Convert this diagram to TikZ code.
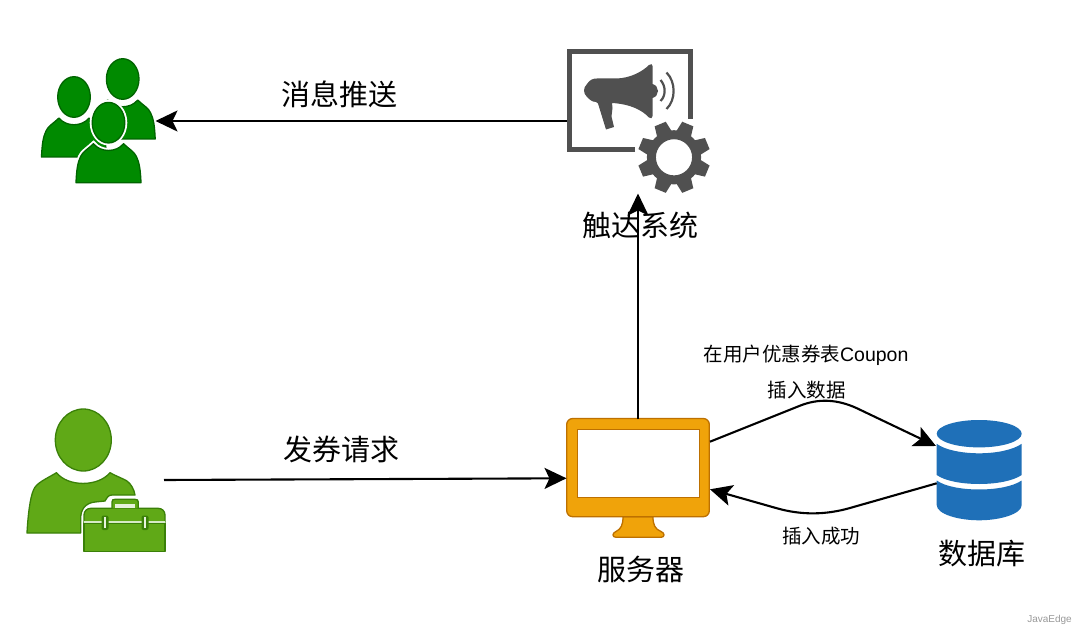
\documentclass[tikz,border=0pt]{standalone}
\usepackage{fontspec}
\setmainfont{Liberation Sans}
\newfontfamily\cjk{Noto Sans CJK SC}
\usetikzlibrary{arrows.meta}
\definecolor{gfill}{HTML}{008A00}
\definecolor{gline}{HTML}{006400}
\definecolor{wfill}{HTML}{60A917}
\definecolor{wline}{HTML}{3A8008}
\definecolor{ofill}{HTML}{F0A30A}
\definecolor{oline}{HTML}{BD7000}
\definecolor{icon}{HTML}{505050}
\definecolor{dbblue}{HTML}{1F70B8}
\tikzset{
  x=1pt,y=-1pt,
  conn/.style={line width=2.1pt,black,-{Stealth[length=22pt,width=21pt,inset=5pt]}},
  bigtext/.style={font=\cjk\fontsize{29}{33}\selectfont,inner sep=0pt,text=black},
  smalltext/.style={font=\cjk\fontsize{19.5}{23}\selectfont,inner sep=0pt,text=black},
  iconbox/.style={inner sep=0pt,draw=none,fill=none},
  person/.style={fill=gfill,draw=gline,line width=1.3pt,line join=round},
}
\newcommand{\groupbody}{(-32.5,60) .. controls (-32,48) and (-31,40) .. (-28,34) .. controls (-26,29) and (-20,26) .. (-15,21) .. controls (-8,30) and (8,30) .. (15,21) .. controls (20,26) and (26,29) .. (28,34) .. controls (31,40) and (32,48) .. (32.5,60) -- cycle}
\begin{document}
\begin{tikzpicture}
\useasboundingbox (0,0) rectangle (1080,631);
\fill[white] (0,0) rectangle (1080,631);

% invisible nodes standing for the icons
\node[iconbox,minimum width=114pt,minimum height=124pt] (users) at (98.5,121) {};
\node[iconbox,minimum width=127pt,minimum height=104pt] (trigger) at (630,101) {};
\node[iconbox,minimum width=138pt,minimum height=143pt] (worker) at (96,480) {};
\node[iconbox,minimum width=143pt,minimum height=119pt] (server) at (638,478) {};
\node[iconbox,minimum width=85pt,minimum height=100pt] (db) at (979,470) {};
\coordinate (trigOut) at (566.7,121);
\coordinate (usersIn) at (155.5,121);
\coordinate (gearBelow) at (638,193.5);
\coordinate (serverTop) at (638,419);
\coordinate (workerOut) at (164,480);
\coordinate (serverIn) at (566.5,478.3);
\coordinate (serverOutR) at (710,441.7);
\coordinate (dbIn) at (936,446);
\coordinate (dbOut) at (936.7,483.3);
\coordinate (serverInR) at (710,489.3);

% users group
\begin{scope}[shift={(122.7,79)}]
  \draw[person] \groupbody;
  \draw[person] (0,0) ellipse[x radius=16.3,y radius=20.3];
\end{scope}
\begin{scope}[shift={(74,97)}]
  \draw[person] \groupbody;
  \draw[person] (0,0) ellipse[x radius=16.3,y radius=20.3];
\end{scope}
\begin{scope}[shift={(108.5,122.7)}]
  \draw[white,line width=5pt] \groupbody;
  \draw[person] \groupbody;
  \fill[white] (0,0) ellipse[x radius=18.8,y radius=22.8];
  \draw[person] (0,0) ellipse[x radius=16.3,y radius=20.3];
\end{scope}

% trigger icon
\draw[icon,line width=5pt] (635,150) -- (569,150) -- (569,51.8) -- (690.8,51.8) -- (690.8,119);
\fill[icon] (587,84) .. controls (590,79.5) and (593,78.5) .. (597,78.5)
  -- (617,78.5) .. controls (630,78) and (642,72) .. (649,65) .. controls (651,63.5) and (652.5,64) .. (652.5,66)
  -- (652.5,84) .. controls (656,85) and (658,88) .. (658,91) .. controls (658,94) and (656,97) .. (652.5,98)
  -- (652.5,116) .. controls (652.5,118.5) and (651,119) .. (649,117.5) .. controls (642,110) and (630,104) .. (612,103)
  -- (612.5,108) -- (611.5,116.5) -- (614,127) -- (606,129.5) -- (598,103.5) -- (596,102)
  .. controls (592,102) and (589,99) .. (587,97) .. controls (583,93) and (583,88) .. (587,84) -- cycle;
\draw[icon,line width=2.2pt] (660.5,80) .. controls (666,86) and (666,96) .. (660.5,101);
\draw[icon,line width=2.2pt] (666.5,72.5) .. controls (676,82) and (676,100) .. (666.5,109);
\draw[icon,line width=9pt] (674,157.3) circle[radius=22.6];
\foreach \a in {22.5,67.5,...,337.5}
  \fill[icon,shift={(674,157.3)},rotate=\a] (-6,-36) -- (6,-36) -- (8,-24) -- (-8,-24) -- cycle;

% worker
\draw[fill=wfill,draw=wline,line width=1.3pt,line join=round] (83.3,440) ellipse[x radius=28,y radius=31];
\draw[fill=wfill,draw=wline,line width=1.3pt,line join=round] (27,533) .. controls (28,515) and (30,498) .. (33.5,490)
  .. controls (36,483) and (46,479) .. (56.5,472.7)
  .. controls (68,487) and (98,487) .. (110,472.7)
  .. controls (118,477) and (124,479) .. (127,481) .. controls (131,484) and (134,489) .. (135,495)
  -- (112,495) .. controls (108,495) and (107,498) .. (105,501) -- (95,502) .. controls (85,503) and (80.7,510) .. (80.7,518) -- (80.7,533) -- cycle;
% toolbox
\draw[fill=wfill,draw=wline,line width=1.3pt,line join=round] (84,521.7) -- (84,515) .. controls (84,511) and (87,508.3) .. (91,508.3) -- (158,508.3) .. controls (162,508.3) and (165,511) .. (165,515) -- (165,521.7) -- cycle;
\draw[fill=wfill,draw=wline,line width=1.3pt,line join=round] (84,523) rectangle (165,551.5);
\draw[fill=wfill,draw=wline,line width=1.3pt] (112,508.3) -- (112,502) .. controls (112,500) and (113,499.3) .. (115,499.3) -- (135,499.3) .. controls (137,499.3) and (138.3,500) .. (138.3,502) -- (138.3,508.3);
\fill[white!85!wfill] (115,503.5) rectangle (135,507.6);
\fill[white!75!wfill] (84,520.8) rectangle (165,523.2);
\foreach \cx in {105,145} {
  \fill[wline,rounded corners=2pt] (\cx-3.5,515.5) rectangle (\cx+3.5,530);
  \fill[white!85!wfill] (\cx-1.3,516.5) rectangle (\cx+1.3,528);
}

% server
\draw[fill=ofill,draw=oline,line width=1.3pt,line join=round] (623,516.7) .. controls (623,525) and (621,529) .. (616,531.5) .. controls (612,533) and (612,537.3) .. (616,537.3) -- (661,537.3) .. controls (665,537.3) and (665,533) .. (661,531.5) .. controls (655,529) and (653,525) .. (653,516.7) -- cycle;
\draw[fill=ofill,draw=oline,line width=1.3pt,rounded corners=6pt] (566.7,418.5) rectangle (709.3,516.7);
\draw[fill=white,draw=oline,line width=1.3pt] (577.3,429.3) rectangle (699.3,497.3);

% database
\fill[dbblue] (979.2,433.7) ellipse[x radius=42.5,y radius=13.7];
\fill[dbblue] (936.7,443.8) .. controls (945,450) and (962,453.3) .. (979.2,453.3) .. controls (996,453.3) and (1013,450) .. (1021.7,443.8)
  -- (1021.7,475) .. controls (1013,481) and (996,484) .. (979.2,484) .. controls (962,484) and (945,481) .. (936.7,475) -- cycle;
\fill[dbblue] (936.7,480.5) .. controls (945,486.5) and (962,489.5) .. (979.2,489.5) .. controls (996,489.5) and (1013,486.5) .. (1021.7,480.5)
  -- (1021.7,505) .. controls (1021.7,514) and (1000,520.3) .. (979.2,520.3) .. controls (958,520.3) and (936.7,514) .. (936.7,505) -- cycle;

% connectors
\draw[conn] (trigOut) -- (usersIn);
\draw[conn] (serverTop) -- (gearBelow);
\draw[conn] (workerOut) -- (serverIn);
\draw[conn] (serverOutR) -- (800,405.7) .. controls (818.5,398.3) and (837.3,399.2) .. (857,408.3) -- (dbIn);
\draw[conn] (dbOut) -- (850,508) .. controls (825.6,515) and (801.3,515.2) .. (777,508.3) -- (serverInR);

% labels
\node[bigtext] (lblPush) at (339,94) {消息推送};
\node[bigtext] (lblTrigger) at (640,225) {触达系统};
\node[bigtext] (lblRequest) at (341,449) {发券请求};
\node[bigtext] (lblServer) at (641,569) {服务器};
\node[bigtext] (lblDb) at (982,554) {数据库};
\node[smalltext] (lblCoupon) at (806,355.5) {在用户优惠券表{\rmfamily Coupon}};
\node[smalltext] (lblInsert) at (806.5,390) {插入数据};
\node[smalltext] (lblOk) at (821,536) {插入成功};
\node[font=\fontsize{10}{12}\selectfont,text=black!40,inner sep=0pt] (mark) at (1049.5,620) {JavaEdge};
\end{tikzpicture}
\end{document}
